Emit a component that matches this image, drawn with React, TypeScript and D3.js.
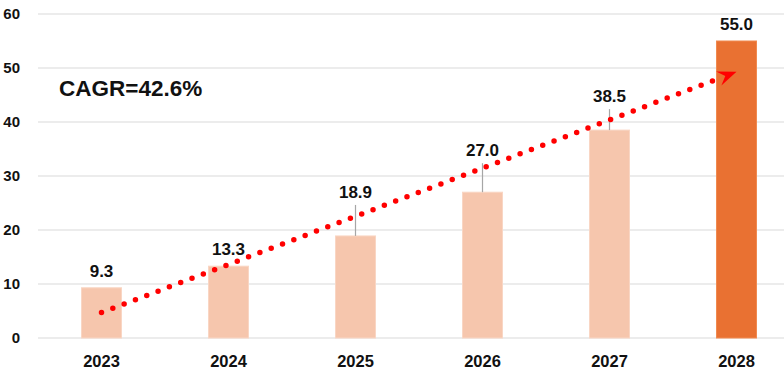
import React, { useRef, useEffect } from 'react';
import * as d3 from 'd3';

// chart data
const years = ['2023', '2024', '2025', '2026', '2027', '2028'];
const values = [9.3, 13.3, 18.9, 27.0, 38.5, 55.0];
const yTicks = [0, 10, 20, 30, 40, 50, 60];
const cagrText = 'CAGR=42.6%';
// trend arrow, in data units: [year, value]
const arrowFrom: [string, number] = ['2023', 4.7];
const arrowTo: [string, number] = ['2028', 49.3];

// extra lift (px) for labels pushed up past the arrow
const labelLift = [0, 0, 27, 25, 17, 0];

const W = 784;
const H = 375;

const App = () => {
  const chartRef = useRef<SVGSVGElement>(null);

  useEffect(() => {
    const root = d3.select(chartRef.current);
    root.selectAll('*').remove();
    const svg = root.attr('width', W).attr('height', H);
    const font = 'Liberation Sans, Arial, sans-serif';

    const x = d3.scaleBand<string>()
      .domain(years)
      .range([38, 800])
      .paddingInner(0.685)
      .paddingOuter(0.3425);

    const y = d3.scaleLinear().domain([0, 60]).range([338, 14]);

    // gridlines
    svg.append('g')
      .selectAll('line')
      .data(yTicks)
      .enter()
      .append('line')
      .attr('x1', 38)
      .attr('x2', W)
      .attr('y1', d => y(d))
      .attr('y2', d => y(d))
      .attr('stroke', '#d9d9d9')
      .attr('stroke-width', 1.2);

    // y tick labels
    svg.append('g')
      .selectAll('text')
      .data(yTicks)
      .enter()
      .append('text')
      .attr('x', 20)
      .attr('y', d => y(d))
      .attr('dy', '0.36em')
      .attr('text-anchor', 'end')
      .attr('font-family', font)
      .attr('font-weight', 'bold')
      .attr('font-size', 15)
      .attr('fill', '#111')
      .text(d => d);

    // bars
    svg.append('g')
      .selectAll('rect')
      .data(values)
      .enter()
      .append('rect')
      .attr('x', (d, i) => x(years[i])!)
      .attr('y', d => y(d))
      .attr('width', x.bandwidth())
      .attr('height', d => y(0) - y(d))
      .attr('fill', (d, i) => (i === values.length - 1 ? '#e97132' : '#f6c6ad'))
      .attr('stroke', (d, i) => (i === values.length - 1 ? '#f08a50' : '#f9d6c4'))
      .attr('stroke-width', 1);

    // leader lines for lifted labels
    svg.append('g')
      .selectAll('line')
      .data(values.map((v, i) => ({ v, i })).filter(d => labelLift[d.i] > 0))
      .enter()
      .append('line')
      .attr('x1', d => x(years[d.i])! + x.bandwidth() / 2)
      .attr('x2', d => x(years[d.i])! + x.bandwidth() / 2)
      .attr('y1', d => y(d.v) - 11 - labelLift[d.i] + 7)
      .attr('y2', d => y(d.v))
      .attr('stroke', '#a6a6a6')
      .attr('stroke-width', 1.2);

    // value labels
    svg.append('g')
      .selectAll('text')
      .data(values)
      .enter()
      .append('text')
      .attr('x', (d, i) => x(years[i])! + x.bandwidth() / 2)
      .attr('y', (d, i) => y(d) - 11 - labelLift[i])
      .attr('text-anchor', 'middle')
      .attr('font-family', font)
      .attr('font-weight', 'bold')
      .attr('font-size', 17)
      .attr('fill', '#111')
      .text(d => d.toFixed(1));

    // year labels
    svg.append('g')
      .selectAll('text')
      .data(years)
      .enter()
      .append('text')
      .attr('x', d => x(d)! + x.bandwidth() / 2)
      .attr('y', 366.5)
      .attr('text-anchor', 'middle')
      .attr('font-family', font)
      .attr('font-weight', 'bold')
      .attr('font-size', 16.5)
      .attr('fill', '#111')
      .text(d => d);

    // arrowhead marker
    svg.append('defs')
      .append('marker')
      .attr('id', 'arrowHead')
      .attr('markerUnits', 'userSpaceOnUse')
      .attr('viewBox', '-20 -8 21 16')
      .attr('refX', 0)
      .attr('refY', 0)
      .attr('markerWidth', 21)
      .attr('markerHeight', 16)
      .attr('orient', 'auto')
      .append('path')
      .attr('d', 'M0,0 L-19,-7.5 L-12,0 L-19,7.5 Z')
      .attr('fill', '#ff0000');

    const cx = (yr: string) => x(yr)! + x.bandwidth() / 2;
    const x1 = cx(arrowFrom[0]);
    const y1 = y(arrowFrom[1]);
    const x2 = cx(arrowTo[0]);
    const y2 = y(arrowTo[1]);
    const len = Math.hypot(x2 - x1, y2 - y1);
    // dotted body stops short of the head
    const bx = x2 - ((x2 - x1) / len) * 20;
    const by = y2 - ((y2 - y1) / len) * 20;

    svg.append('line')
      .attr('x1', x1)
      .attr('y1', y1)
      .attr('x2', bx)
      .attr('y2', by)
      .attr('stroke', '#ff0000')
      .attr('stroke-width', 5.5)
      .attr('stroke-linecap', 'round')
      .attr('stroke-dasharray', '0 12.1');

    svg.append('line')
      .attr('x1', bx)
      .attr('y1', by)
      .attr('x2', x2)
      .attr('y2', y2)
      .attr('stroke', 'none')
      .attr('marker-end', 'url(#arrowHead)');

    svg.append('text')
      .attr('x', 59)
      .attr('y', 96)
      .attr('font-family', font)
      .attr('font-weight', 'bold')
      .attr('font-size', 22.5)
      .attr('fill', '#111')
      .text(cagrText);
  }, []);

  return (
    <svg
      ref={chartRef}
      style={{ position: 'absolute', left: 0, top: 0, display: 'block', background: '#fff' }}
    ></svg>
  );
};

export default App;
